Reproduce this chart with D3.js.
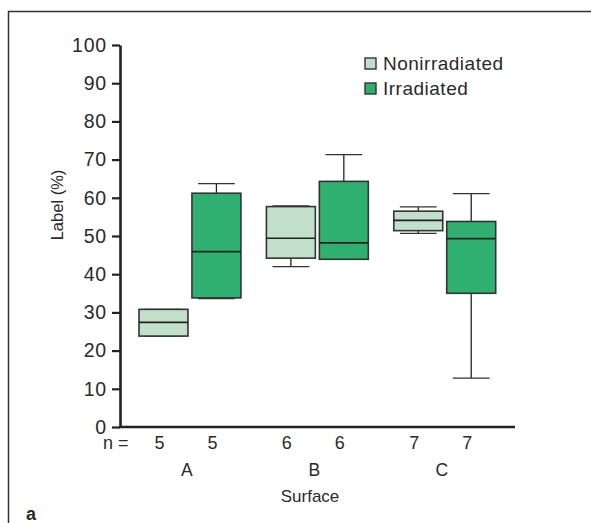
<!DOCTYPE html>
<html><head><meta charset="utf-8">
<script src="https://cdn.jsdelivr.net/npm/d3@7"></script>
<style>body{margin:0;background:#fff}svg{display:block}text{font-family:"Liberation Sans",Arial,sans-serif;fill:#2a2a2a}</style>
</head><body>
<script>
const surfaces = ["A", "B", "C"];
const groups = ["Nonirradiated", "Irradiated"];
const nValues = [5, 5, 6, 6, 7, 7];
// per box, order A-non, A-irr, B-non, B-irr, C-non, C-irr
const whiskerLow = [23.8, 33.6, 42.0, 43.9, 50.7, 12.8];
const q1 = [23.8, 33.8, 44.2, 43.9, 51.4, 35.0];
const median = [27.4, 45.9, 49.4, 48.2, 54.1, 49.3];
const q3 = [30.8, 61.2, 57.7, 64.3, 56.5, 53.8];
const whiskerHigh = [30.8, 63.7, 57.9, 71.3, 57.6, 61.1];
const yTicks = [0, 10, 20, 30, 40, 50, 60, 70, 80, 90, 100];
const colors = ["#c2dfc9", "#30b070"];

const W = 591, H = 523;
const svg = d3.select("body").append("svg").attr("width", W).attr("height", H);

// frame
svg.append("path").attr("d", "M8.5,523 V11.5 H591").attr("fill", "none").attr("stroke", "#333").attr("stroke-width", 1.5);

const x0 = 120, x1 = 515, yTop = 45, yBot = 427;
const y = d3.scaleLinear().domain([0, 100]).range([yBot, yTop]);
const xOuter = d3.scaleBand().domain(surfaces).range([139, 495.7]).paddingInner(0.2).paddingOuter(0);
const xInner = d3.scaleBand().domain(groups).range([0, xOuter.bandwidth()]).paddingInner(0.075);

const boxes = [];
surfaces.forEach((s, i) => groups.forEach((g, j) => {
  const k = i * 2 + j;
  boxes.push({s, g, j, k, lo: whiskerLow[k], q1: q1[k], med: median[k], q3: q3[k], hi: whiskerHigh[k], n: nValues[k]});
}));

const bw = xInner.bandwidth();
const bx = d => xOuter(d.s) + xInner(d.g);
const bc = d => bx(d) + bw / 2;

const gBox = svg.append("g");
const b = gBox.selectAll("g").data(boxes).join("g");
b.append("line").attr("x1", bc).attr("x2", bc).attr("y1", d => y(d.hi)).attr("y2", d => y(d.q3)).attr("stroke", "#222").attr("stroke-width", 1.3);
b.append("line").attr("x1", bc).attr("x2", bc).attr("y1", d => y(d.q1)).attr("y2", d => y(d.lo)).attr("stroke", "#222").attr("stroke-width", 1.3);
b.append("line").attr("x1", d => bc(d) - bw * 0.375).attr("x2", d => bc(d) + bw * 0.375).attr("y1", d => y(d.hi)).attr("y2", d => y(d.hi)).attr("stroke", "#333").attr("stroke-width", 1.3);
b.append("line").attr("x1", d => bc(d) - bw * 0.375).attr("x2", d => bc(d) + bw * 0.375).attr("y1", d => y(d.lo)).attr("y2", d => y(d.lo)).attr("stroke", "#333").attr("stroke-width", 1.3);
b.append("rect").attr("x", bx).attr("width", bw).attr("y", d => y(d.q3)).attr("height", d => y(d.q1) - y(d.q3))
  .attr("fill", d => colors[d.j]).attr("stroke", "#333").attr("stroke-width", 1.6);
b.append("line").attr("x1", bx).attr("x2", d => bx(d) + bw).attr("y1", d => y(d.med)).attr("y2", d => y(d.med)).attr("stroke", "#222").attr("stroke-width", 1.6);

// axes
const yAxis = svg.append("g").attr("transform", `translate(${x0},0)`)
  .call(d3.axisLeft(y).tickValues(yTicks).tickSize(8).tickPadding(5).tickSizeOuter(0));
yAxis.select(".domain").attr("stroke", "#222").attr("stroke-width", 2.6);
yAxis.selectAll(".tick line").attr("stroke", "#222").attr("stroke-width", 2.2);
yAxis.selectAll(".tick text").style("font-size", "19.5px").style("letter-spacing", "0.8px")
  .style("font-family", '"Liberation Sans", Arial, sans-serif').attr("fill", "#2a2a2a");

svg.append("line").attr("x1", x0 - 1).attr("x2", x1).attr("y1", yBot).attr("y2", yBot).attr("stroke", "#222").attr("stroke-width", 2.6);

// n row
svg.append("text").attr("x", 103).attr("y", 449).style("font-size", "18px").text("n =");
svg.selectAll("text.n").data(boxes).join("text").attr("class", "n")
  .attr("x", d => bc(d) - 4).attr("y", 449).attr("text-anchor", "middle").style("font-size", "18px").text(d => d.n);
// category labels
svg.selectAll("text.cat").data(surfaces).join("text").attr("class", "cat")
  .attr("x", d => xOuter(d) + xOuter.bandwidth() / 2 - 3).attr("y", 476).attr("text-anchor", "middle").style("font-size", "17.5px").text(d => d);
svg.append("text").attr("x", 310).attr("y", 502).attr("text-anchor", "middle").style("font-size", "17px").text("Surface");
svg.append("text").attr("transform", "translate(63,205) rotate(-90)").attr("text-anchor", "middle").style("font-size", "16.5px").text("Label (%)");
svg.append("text").attr("x", 26).attr("y", 520).style("font-size", "18px").style("font-weight", "bold").attr("fill", "#111").text("a");

// legend
const lg = svg.append("g").selectAll("g").data(groups).join("g").attr("transform", (d, i) => `translate(365,${58 + i * 25})`);
lg.append("rect").attr("width", 11).attr("height", 11).attr("fill", (d, i) => colors[i]).attr("stroke", "#333").attr("stroke-width", 1.4);
lg.append("text").attr("x", 18).attr("y", 12).style("font-size", "19px").style("letter-spacing", "0.5px").text(d => d);
</script>
</body></html>
